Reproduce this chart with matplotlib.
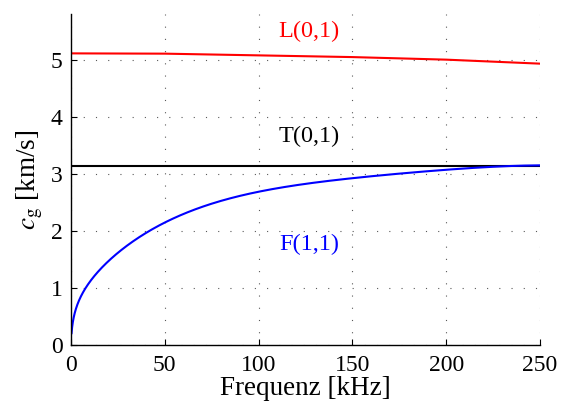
import numpy as np
import matplotlib
matplotlib.use('Agg')
import matplotlib.pyplot as plt

plt.rcParams['font.family'] = ['Liberation Serif', 'DejaVu Serif']
plt.rcParams['mathtext.fontset'] = 'stix'

# L(0,1) group velocity
f_L = [0, 50, 100, 150, 200, 250]
cg_L = [5.11, 5.105, 5.075, 5.045, 5.0, 4.93]

# T(0,1) constant
f_T = [0, 250]
cg_T = [3.14, 3.14]

# F(1,1)
f_F = [0.3, 1.8, 4.4, 8, 13.3, 18.3, 23.5, 32.4, 41.3, 50.2, 60.9,
       70.6, 88.5, 100, 124, 150, 181, 200.5, 225.4, 250]
cg_F = [0.2, 0.55, 0.79, 1.0, 1.23, 1.41, 1.59, 1.81, 1.99, 2.15, 2.3,
        2.43, 2.6, 2.68, 2.82, 2.93, 3.02, 3.07, 3.12, 3.15]

xticks = [0, 50, 100, 150, 200, 250]
yticks = [0, 1, 2, 3, 4, 5]

fig = plt.figure(figsize=(5.66, 4.08), dpi=100)
ax = fig.add_axes([0.1254, 0.1544, 0.954 - 0.1254, 0.9657 - 0.1544])

# smooth the read points: least-squares fit in sqrt(f)
sq = np.sqrt(f_F)
p = np.polyfit(sq, cg_F, 6)
s = np.linspace(sq[0], sq[-1], 600)
ff = s ** 2
cf = np.polyval(p, s)

ax.plot(f_L, cg_L, color='red', lw=1.5)
ax.plot(f_T, cg_T, color='black', lw=1.5)
ax.plot(ff, cf, color='blue', lw=1.5)

ax.text(127, 5.49, 'L(0,1)', color='red', fontsize=17.5, ha='center', va='center')
ax.text(127, 3.66, 'T(0,1)', color='black', fontsize=17.5, ha='center', va='center')
ax.text(127, 1.77, 'F(1,1)', color='blue', fontsize=17.5, ha='center', va='center')

ax.set_xlim(0, 250)
ax.set_ylim(0, 5.8)
ax.set_xticks(xticks)
ax.set_yticks(yticks)
ax.tick_params(direction='in', labelsize=17, length=4, width=0.8)
ax.tick_params(axis='x', pad=7)
ax.tick_params(axis='y', pad=6)
ax.grid(True, color='0.35', linestyle=(0, (1, 10)), linewidth=0.8)
ax.spines['top'].set_visible(False)
ax.spines['right'].set_visible(False)
for sp in ['left', 'bottom']:
    ax.spines[sp].set_linewidth(1.0)

ax.set_xlabel('Frequenz [kHz]', fontsize=19.5, labelpad=0)
ax.set_ylabel(r'$c_\mathrm{g}$ [km/s]', fontsize=19.5, labelpad=4)

fig.savefig('out.png', dpi=100)
